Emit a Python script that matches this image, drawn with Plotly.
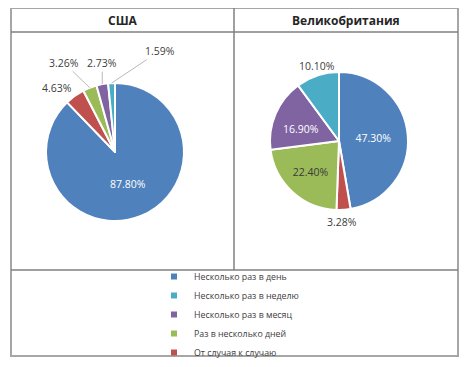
import math
import plotly.graph_objects as go

W, H = 467, 367
BODY = 8  # default page margin of the html body

categories = ["Несколько раз в день", "От случая к случаю", "Раз в несколько дней",
              "Несколько раз в месяц", "Несколько раз в неделю"]
legend_order = ["Несколько раз в день", "Несколько раз в неделю", "Несколько раз в месяц",
                "Раз в несколько дней", "От случая к случаю"]
usa_values = [87.80, 4.63, 3.26, 2.73, 1.59]
uk_values = [47.30, 3.28, 22.40, 16.90, 10.10]
titles = ["США", "Великобритания"]

colors = {
    "Несколько раз в день": "#4F81BD",
    "От случая к случаю": "#C0504D",
    "Раз в несколько дней": "#9BBB59",
    "Несколько раз в месяц": "#8064A2",
    "Несколько раз в неделю": "#4BACC6",
}
FONT = "Open Sans"
DARK = "#404040"
LSIZE = 10.5

def px_x(x):
    return (x - BODY) / W

def px_y(y):
    return 1 - (y - BODY) / H

def square_domain(cx, cy, r):
    return dict(x=[px_x(cx - r), px_x(cx + r)], y=[px_y(cy + r), px_y(cy - r)])

def slice_point(values, i, cx, cy, r, frac):
    total = sum(values)
    start = sum(values[:i])
    mid = (start + values[i] / 2) / total * 2 * math.pi  # clockwise from 12 o'clock
    return cx + frac * r * math.sin(mid), cy - frac * r * math.cos(mid)

USA_C = (115, 152, 69)
UK_C = (339, 141, 69)

fig = go.Figure()

usa_pos = ["inside", "none", "none", "none", "none"]
uk_pos = ["inside", "none", "inside", "none", "none"]
uk_inside_col = ["white", DARK, "#3A3A3A", "white", DARK]

fig.add_trace(go.Pie(
    labels=categories, values=usa_values, sort=False, direction="clockwise", rotation=0,
    marker=dict(colors=[colors[c] for c in categories], line=dict(color="white", width=2)),
    texttemplate="%{value:.2f}%", textposition=usa_pos,
    insidetextfont=dict(color="white", size=LSIZE, family=FONT),
    insidetextorientation="horizontal",
    domain=square_domain(*USA_C),
    showlegend=False, hoverinfo="label+value",
))
fig.add_trace(go.Pie(
    labels=categories, values=uk_values, sort=False, direction="clockwise", rotation=0,
    marker=dict(colors=[colors[c] for c in categories], line=dict(color="white", width=2)),
    texttemplate="%{value:.2f}%", textposition=uk_pos,
    insidetextfont=dict(color=uk_inside_col, size=LSIZE, family=FONT),
    insidetextorientation="horizontal",
    domain=square_domain(*UK_C),
    showlegend=False, hoverinfo="label+value",
))

for name in legend_order:
    fig.add_trace(go.Scatter(
        x=[None], y=[None], mode="markers", name=name,
        marker=dict(symbol="square", size=6, color=colors[name]),
        xaxis="x", yaxis="y", showlegend=True,
    ))

border = "#A6A6A6"
inner = "#808080"
shapes = [
    dict(type="rect", xref="paper", yref="paper", x0=px_x(11), x1=px_x(458), y0=px_y(356), y1=px_y(8),
         line=dict(color=border, width=2)),
    dict(type="line", xref="paper", yref="paper", x0=px_x(11), x1=px_x(458), y0=px_y(32), y1=px_y(32),
         line=dict(color=inner, width=1.5)),
    dict(type="line", xref="paper", yref="paper", x0=px_x(11), x1=px_x(458), y0=px_y(270), y1=px_y(270),
         line=dict(color=inner, width=1.5)),
    dict(type="line", xref="paper", yref="paper", x0=px_x(234), x1=px_x(234), y0=px_y(270), y1=px_y(8),
         line=dict(color=inner, width=1.5)),
]

annotations = [
    dict(text=f"<b>{titles[0]}</b>", x=px_x(122.5), y=px_y(20), xref="paper", yref="paper",
         showarrow=False, font=dict(size=12, color="#262626", family=FONT), xanchor="center", yanchor="middle"),
    dict(text=f"<b>{titles[1]}</b>", x=px_x(346), y=px_y(20), xref="paper", yref="paper",
         showarrow=False, font=dict(size=12, color="#262626", family=FONT), xanchor="center", yanchor="middle"),
]

# labels placed by slice: (pie values, slice index, centre, radius fraction, offset px, leader, colour)
slice_labels = [
    (usa_values, 1, USA_C, 1.0, (-18, -8), False, DARK),
    (usa_values, 2, USA_C, 1.0, (-26, -25), True, DARK),
    (usa_values, 3, USA_C, 1.0, (0, -21), True, DARK),
    (usa_values, 4, USA_C, 1.0, (48, -32), True, DARK),
    (uk_values, 1, UK_C, 1.0, (-2, 12), False, DARK),
    (uk_values, 4, UK_C, 1.0, (0, -9), False, DARK),
    (uk_values, 3, UK_C, 0.58, (-1, 4), False, "white"),
]
for vals, i, (cx, cy, r), frac, (dx, dy), leader, col in slice_labels:
    ax_, ay_ = slice_point(vals, i, cx, cy, r, frac)
    txt = f"{vals[i]:.2f}%"
    if leader:
        annotations.append(dict(
            text=txt, x=px_x(ax_), y=px_y(ay_), xref="paper", yref="paper",
            showarrow=True, ax=dx, ay=dy, axref="pixel", ayref="pixel",
            arrowhead=0, arrowwidth=0.8, arrowcolor="#A6A6A6", standoff=0, startstandoff=0,
            font=dict(size=LSIZE, color=col, family=FONT),
        ))
    else:
        annotations.append(dict(
            text=txt, x=px_x(ax_ + dx), y=px_y(ay_ + dy), xref="paper", yref="paper",
            showarrow=False, xanchor="center", yanchor="middle",
            font=dict(size=LSIZE, color=col, family=FONT),
        ))

fig.update_layout(
    width=W, height=H, margin=dict(l=0, r=0, t=0, b=0),
    paper_bgcolor="white", plot_bgcolor="white",
    font=dict(family=FONT, color=DARK),
    xaxis=dict(visible=False, domain=[0, 0.01]), yaxis=dict(visible=False, domain=[0, 0.01]),
    shapes=shapes, annotations=annotations,
    legend=dict(x=px_x(154), y=px_y(262), xanchor="left", yanchor="top",
                font=dict(size=8.8, color=DARK, family=FONT), bgcolor="rgba(0,0,0,0)",
                tracegroupgap=0),
)

fig.write_html("out.html")
